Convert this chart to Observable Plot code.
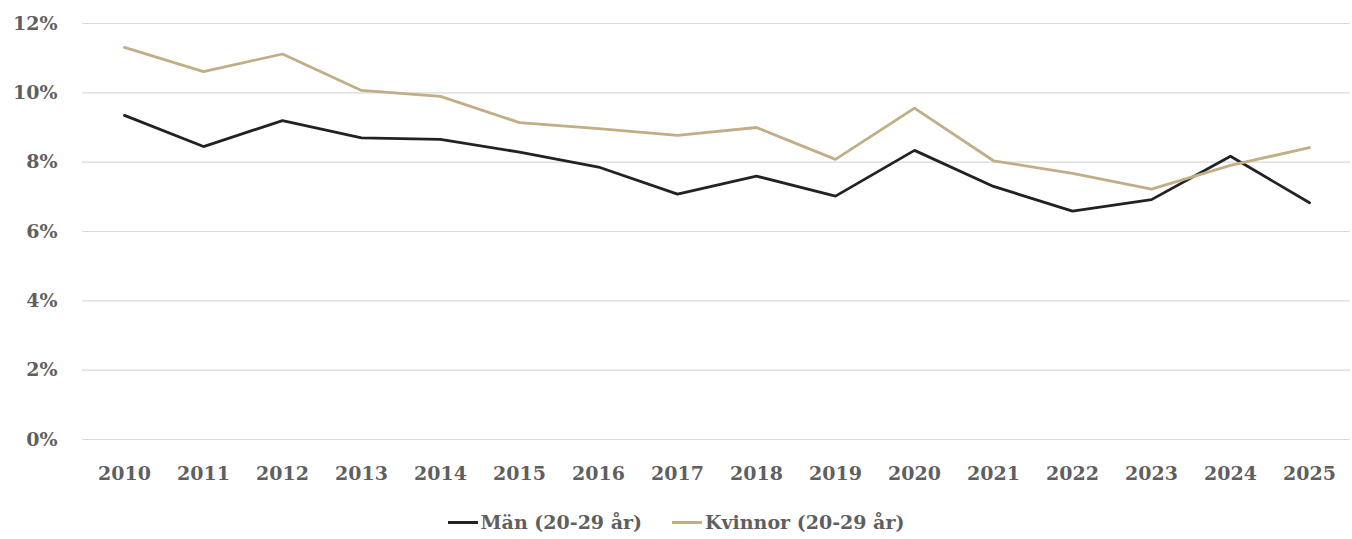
<!DOCTYPE html>
<html>
<head>
<meta charset="utf-8">
<script src="https://cdn.jsdelivr.net/npm/d3@7"></script>
<script src="https://cdn.jsdelivr.net/npm/@observablehq/plot@0.6"></script>
<style>
  html, body { margin: 0; padding: 0; background: #fff; }
  #chart svg { display: block; }
  .legend { height: 44px; display: flex; align-items: center; justify-content: center; gap: 30px;
    font-family: "DejaVu Serif", serif; font-weight: bold; font-size: 19px; color: #5f5f5f; }
  .legend .item { display: flex; align-items: center; }
  .legend .sw { width: 30px; height: 3px; margin-right: 3px; }
</style>
</head>
<body>
<div id="chart"></div>
<script>
const years = [2010, 2011, 2012, 2013, 2014, 2015, 2016, 2017, 2018, 2019, 2020, 2021, 2022, 2023, 2024, 2025];
const man =     [9.35, 8.45, 9.20, 8.70, 8.66, 8.29, 7.86, 7.08, 7.60, 7.02, 8.34, 7.30, 6.59, 6.92, 8.17, 6.83];
const kvinnor = [11.31, 10.61, 11.12, 10.07, 9.90, 9.14, 8.97, 8.77, 9.00, 8.08, 9.56, 8.04, 7.68, 7.22, 7.91, 8.42];
const seriesNames = ["Män (20-29 år)", "Kvinnor (20-29 år)"];
const seriesColors = ["#222222", "#c1ae87"];
const yTicks = [0, 2, 4, 6, 8, 10, 12];

const data = [];
years.forEach((y, i) => {
  data.push({year: y, value: man[i], series: seriesNames[0]});
  data.push({year: y, value: kvinnor[i], series: seriesNames[1]});
});

const chart = Plot.plot({
  width: 1352,
  height: 500,
  marginTop: 23,
  marginBottom: 61,
  marginLeft: 82,
  marginRight: 2,
  style: {fontFamily: "DejaVu Serif, serif", fontWeight: "bold", fontSize: "19px", color: "#5f5f5f", background: "#fff"},
  x: {type: "point", domain: years, padding: 0.5, label: null, tickSize: 0, tickPadding: 27, tickFormat: d => String(d)},
  y: {domain: [0, 12], ticks: yTicks, label: null, tickSize: 0, tickPadding: 25, tickFormat: d => d + "%"},
  color: {domain: seriesNames, range: seriesColors},
  marks: [
    Plot.gridY(yTicks, {stroke: "#d9d9d9", strokeOpacity: 1, strokeWidth: 1.2}),
    Plot.axisX({tickSize: 0, tickPadding: 27, tickFormat: d => String(d), label: null}),
    Plot.axisY(yTicks, {tickSize: 0, tickPadding: 25, tickFormat: d => d + "%", label: null}),
    Plot.line(data, {x: "year", y: "value", z: "series", stroke: "series", strokeWidth: 2.8, strokeLinejoin: "miter"})
  ]
});
document.getElementById("chart").appendChild(chart);

const legend = document.createElement("div");
legend.className = "legend";
seriesNames.forEach((name, i) => {
  const item = document.createElement("div");
  item.className = "item";
  const sw = document.createElement("span");
  sw.className = "sw";
  sw.style.background = seriesColors[i];
  const label = document.createElement("span");
  label.textContent = name;
  item.appendChild(sw);
  item.appendChild(label);
  legend.appendChild(item);
});
document.body.appendChild(legend);
</script>
</body>
</html>
